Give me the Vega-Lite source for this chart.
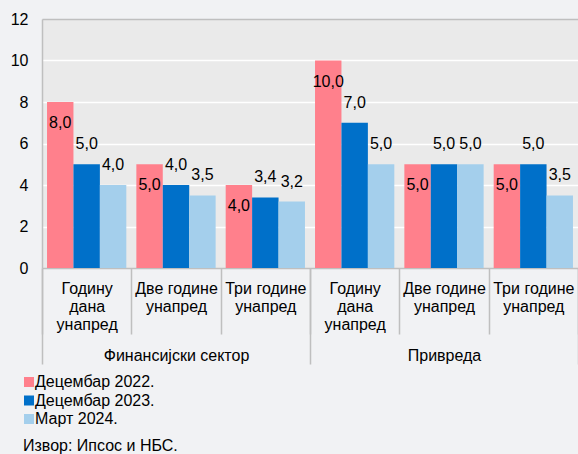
{
  "$schema": "https://vega.github.io/schema/vega-lite/v6.json",
  "width": 536,
  "height": 249,
  "autosize": {"type": "none"},
  "padding": {"left": 42, "top": 19, "right": 0, "bottom": 186},
  "background": "#F1F2F4",
  "config": {
    "font": "Liberation Sans",
    "view": {"fill": "#EAEAEA", "stroke": null},
    "locale": {"number": {"decimal": ",", "thousands": ".", "grouping": [3], "currency": ["", ""]}}
  },
  "title": {
    "text": "Извор: Ипсос и НБС.",
    "orient": "bottom",
    "anchor": "start",
    "frame": "group",
    "fontSize": 16,
    "fontWeight": "normal",
    "color": "#000000",
    "dx": -19,
    "offset": 11
  },
  "data": {
    "values": [
      {"sector": "Финансијски сектор", "key": "1|Годину|дана|унапред", "series": "Децембар 2022.", "value": 8.0},
      {"sector": "Финансијски сектор", "key": "1|Годину|дана|унапред", "series": "Децембар 2023.", "value": 5.0},
      {"sector": "Финансијски сектор", "key": "1|Годину|дана|унапред", "series": "Март 2024.", "value": 4.0},
      {"sector": "Финансијски сектор", "key": "1|Две године|унапред", "series": "Децембар 2022.", "value": 5.0},
      {"sector": "Финансијски сектор", "key": "1|Две године|унапред", "series": "Децембар 2023.", "value": 4.0},
      {"sector": "Финансијски сектор", "key": "1|Две године|унапред", "series": "Март 2024.", "value": 3.5},
      {"sector": "Финансијски сектор", "key": "1|Три године|унапред", "series": "Децембар 2022.", "value": 4.0},
      {"sector": "Финансијски сектор", "key": "1|Три године|унапред", "series": "Децембар 2023.", "value": 3.4},
      {"sector": "Финансијски сектор", "key": "1|Три године|унапред", "series": "Март 2024.", "value": 3.2},
      {"sector": "Привреда", "key": "2|Годину|дана|унапред", "series": "Децембар 2022.", "value": 10.0},
      {"sector": "Привреда", "key": "2|Годину|дана|унапред", "series": "Децембар 2023.", "value": 7.0},
      {"sector": "Привреда", "key": "2|Годину|дана|унапред", "series": "Март 2024.", "value": 5.0},
      {"sector": "Привреда", "key": "2|Две године|унапред", "series": "Децембар 2022.", "value": 5.0},
      {"sector": "Привреда", "key": "2|Две године|унапред", "series": "Децембар 2023.", "value": 5.0},
      {"sector": "Привреда", "key": "2|Две године|унапред", "series": "Март 2024.", "value": 5.0},
      {"sector": "Привреда", "key": "2|Три године|унапред", "series": "Децембар 2022.", "value": 5.0},
      {"sector": "Привреда", "key": "2|Три године|унапред", "series": "Децембар 2023.", "value": 5.0},
      {"sector": "Привреда", "key": "2|Три године|унапред", "series": "Март 2024.", "value": 3.5}
    ]
  },
  "layer": [
    {
      "encoding": {
        "x": {
          "field": "key",
          "type": "nominal",
          "sort": null,
          "scale": {
            "domain": ["1|Годину|дана|унапред", "1|Две године|унапред", "1|Три године|унапред", "2|Годину|дана|унапред", "2|Две године|унапред", "2|Три године|унапред"],
            "paddingInner": 0,
            "paddingOuter": 0
          },
          "axis": {
            "orient": "bottom",
            "title": null,
            "labelExpr": "slice(split(datum.label, '|'), 1)",
            "labelAngle": 0,
            "labelBaseline": "top",
            "labelLineHeight": 18,
            "labelFontSize": 16,
            "labelColor": "#000000",
            "labelOverlap": false,
            "labelPadding": -54,
            "tickBand": "extent",
            "ticks": true,
            "tickSize": 66,
            "tickColor": "#BFBFBF",
            "tickWidth": 1.5,
            "domainColor": "#BFBFBF",
            "domainWidth": 1.5,
            "grid": false
          }
        },
        "xOffset": {
          "field": "series",
          "type": "nominal",
          "scale": {
            "domain": ["Децембар 2022.", "Децембар 2023.", "Март 2024."],
            "paddingInner": 0,
            "paddingOuter": 0.19
          }
        },
        "y": {
          "field": "value",
          "type": "quantitative",
          "scale": {"domain": [0, 12], "nice": false},
          "axis": {
            "title": null,
            "values": [0, 2, 4, 6, 8, 10, 12],
            "ticks": false,
            "domain": true,
            "domainColor": "#BFBFBF",
            "domainWidth": 1.5,
            "labelPadding": 14,
            "labelFontSize": 16,
            "labelColor": "#000000",
            "gridColor": {"condition": [
              {"test": "datum.value == 0", "value": "transparent"},
              {"test": "datum.value == 12", "value": "#BFBFBF"}
            ], "value": "#FFFFFF"},
            "gridWidth": 1.5
          }
        }
      },
      "layer": [
        {
          "mark": {"type": "bar"},
          "encoding": {
            "color": {
              "field": "series",
              "type": "nominal",
              "scale": {
                "domain": ["Децембар 2022.", "Децембар 2023.", "Март 2024."],
                "range": ["#FF808C", "#0070C9", "#A4CFEC"]
              },
              "legend": {
                "orient": "none",
                "legendX": -21,
                "legendY": 355,
                "title": null,
                "symbolType": "square",
                "symbolSize": 100,
                "symbolStrokeWidth": 0,
                "labelFontSize": 16,
                "labelColor": "#000000",
                "labelOffset": -2,
                "rowPadding": 2.5
              }
            }
          }
        },
        {
          "transform": [{"filter": "datum.series == 'Децембар 2022.'"}],
          "mark": {"type": "text", "baseline": "middle", "dy": 21, "fontSize": 16, "color": "#000000"},
          "encoding": {"text": {"field": "value", "type": "quantitative", "format": ".1f"}}
        },
        {
          "transform": [{"filter": "datum.series != 'Децембар 2022.'"}],
          "mark": {"type": "text", "baseline": "middle", "dy": -20, "fontSize": 16, "color": "#000000"},
          "encoding": {"text": {"field": "value", "type": "quantitative", "format": ".1f"}}
        }
      ]
    },
    {
      "mark": {"type": "bar", "opacity": 0},
      "encoding": {
        "x": {
          "field": "sector",
          "type": "nominal",
          "sort": null,
          "scale": {"paddingInner": 0, "paddingOuter": 0},
          "axis": {
            "orient": "bottom",
            "title": null,
            "labelAngle": 0,
            "labelBaseline": "top",
            "labelFontSize": 16,
            "labelColor": "#000000",
            "labelPadding": -17,
            "tickBand": "extent",
            "ticks": true,
            "tickSize": 96,
            "tickColor": "#BFBFBF",
            "tickWidth": 1.5,
            "domain": false,
            "grid": false
          }
        },
        "y": {"field": "value", "type": "quantitative"}
      }
    }
  ],
  "resolve": {"scale": {"x": "independent"}, "axis": {"x": "independent"}}
}
